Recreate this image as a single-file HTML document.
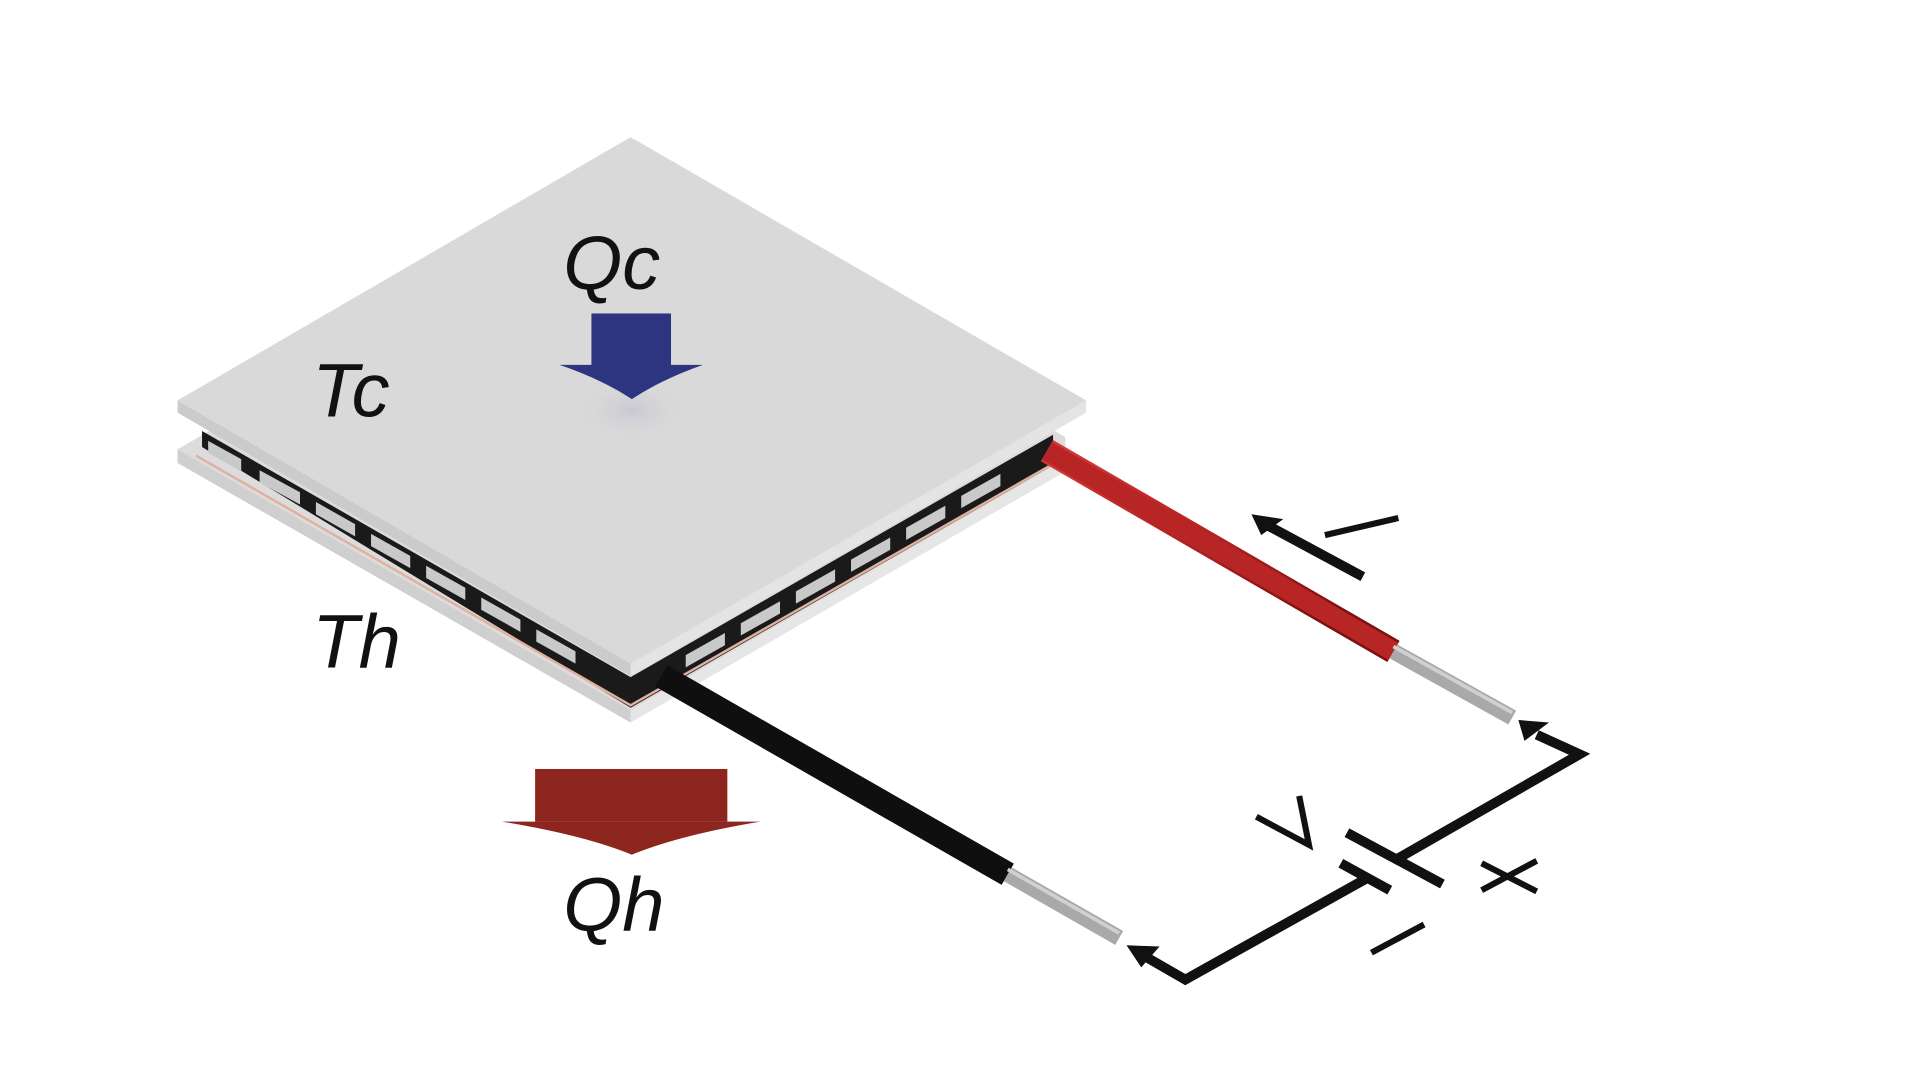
<!DOCTYPE html>
<html><head><meta charset="utf-8"><style>html,body{margin:0;padding:0;background:#fff}svg{display:block}</style></head>
<body>
<svg width="1920" height="1080" viewBox="0 0 1568 882" xmlns="http://www.w3.org/2000/svg">
<defs>
<linearGradient id="red" x1="0" y1="0" x2="0.3" y2="1"><stop offset="0" stop-color="#d23a3a"/><stop offset="0.5" stop-color="#b52222"/><stop offset="1" stop-color="#7a1010"/></linearGradient>
<radialGradient id="sh" cx="0.5" cy="0.5" r="0.5"><stop offset="0" stop-color="#c8c8d4"/><stop offset="1" stop-color="#d9d9d9" stop-opacity="0"/></radialGradient>
</defs>
<rect width="1568" height="882" fill="#fff"/>
<!-- bottom plate -->
<polygon points="145,367 515,152 870,357 870,385 515,590 145,378" fill="#dcdcdc"/>
<polygon points="145,367 515,580 515,590 145,378" fill="#cfcfcf"/>
<polygon points="515,580 870,375 870,385 515,590" fill="#e6e6e6"/>
<!-- pellets band -->
<polygon points="165,352 515,553 860,355 860,380 515,578 165,365" fill="#1a1a1a"/>
<g fill="#c9c9c9">
<polygon points="170,360 197,375 197,385 170,370"/>
<polygon points="212,384 245,402 245,412 212,394"/>
<polygon points="258,410 290,428 290,438 258,420"/>
<polygon points="303,436 335,454 335,464 303,446"/>
<polygon points="348,462 380,480 380,490 348,472"/>
<polygon points="393,488 425,506 425,516 393,498"/>
<polygon points="438,514 470,532 470,542 438,524"/>
<polygon points="560,535 592,517 592,527 560,545"/>
<polygon points="605,509 637,491 637,501 605,519"/>
<polygon points="650,483 682,465 682,475 650,493"/>
<polygon points="695,457 727,439 727,449 695,467"/>
<polygon points="740,431 772,413 772,423 740,441"/>
<polygon points="785,405 817,387 817,397 785,415"/>
</g>
<polyline points="160,372 515,576 865,376" fill="none" stroke="#e0b0a0" stroke-width="2"/>
<!-- top plate -->
<polygon points="145,327 515,542 515,552 145,337" fill="#cbcbcb"/>
<polygon points="515,542 887,327 887,337 515,552" fill="#e4e4e4"/>
<polygon points="145,327 515,112 887,327 515,542" fill="#d9d9d9"/>
<ellipse cx="516" cy="335" rx="45" ry="25" fill="url(#sh)"/>
<!-- wires -->
<line x1="855" y1="368" x2="1138" y2="532" stroke="url(#red)" stroke-width="20"/>
<line x1="855" y1="368" x2="1138" y2="532" stroke="#b82525" stroke-width="16"/>
<line x1="1138" y1="532" x2="1235" y2="586" stroke="#a9a9a9" stroke-width="13"/>
<line x1="1138" y1="528" x2="1235" y2="582" stroke="#d0d0d0" stroke-width="3"/>
<line x1="540" y1="552" x2="823" y2="714" stroke="#0f0f0f" stroke-width="20"/>
<line x1="823" y1="714" x2="914" y2="766" stroke="#a9a9a9" stroke-width="13"/>
<line x1="823" y1="710" x2="914" y2="762" stroke="#d0d0d0" stroke-width="3"/>
<!-- Qc arrow blue -->
<rect x="483" y="256" width="65" height="43" fill="#2e3580"/>
<path d="M457,298 L574,298 Q540,310 516,326 Q492,310 457,298Z" fill="#2e3580"/>
<!-- Qh arrow red -->
<rect x="437" y="628" width="157" height="43" fill="#8e2620"/>
<path d="M410,671 L621,671 Q555,682 516,698 Q477,682 410,671Z" fill="#8e2620"/>
<!-- labels -->
<g font-family="Liberation Sans, sans-serif" font-style="italic" font-size="62" fill="#111">
<text x="460" y="236">Qc</text>
<text x="255" y="340">Tc</text>
<text x="255" y="545">Th</text>
<text x="460" y="760">Qh</text>
</g>
<!-- circuit -->
<g stroke="#111" stroke-width="8" fill="none">
<polyline points="1255,600 1290,616 1140,702"/>
<line x1="1100" y1="680" x2="1178" y2="722"/>
<line x1="1095" y1="705" x2="1135" y2="727"/>
<polyline points="1115,718 968,800 935,781"/>
<line x1="1035" y1="429" x2="1113" y2="471"/>
</g>
<polygon points="1240,588 1265,590 1245,605" fill="#111"/>
<polygon points="920,772 947,773 932,790" fill="#111"/>
<polygon points="1022,420 1048,424 1030,437" fill="#111"/>
<g stroke="#111" stroke-width="5" fill="none">
<line x1="1082" y1="437" x2="1142" y2="423"/>
<polyline points="1026,667 1069,690 1061,650"/>
<line x1="1210" y1="705" x2="1255" y2="728"/>
<line x1="1210" y1="727" x2="1255" y2="703"/>
<line x1="1120" y1="778" x2="1163" y2="755"/>
</g>
</svg>
</body></html>
